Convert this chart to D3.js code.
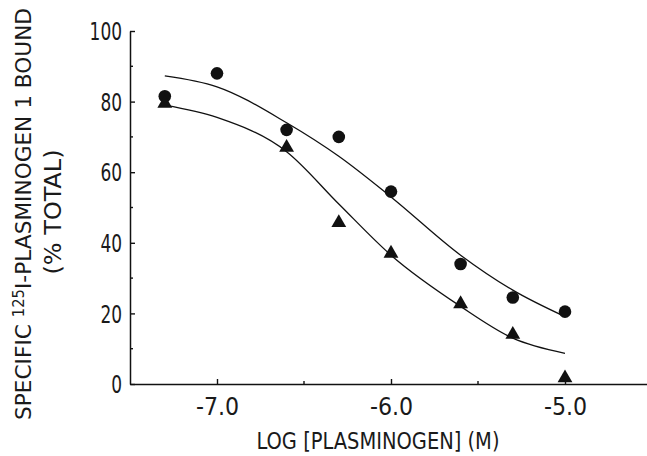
<!DOCTYPE html>
<html>
<head>
<meta charset="utf-8">
<script src="https://cdn.jsdelivr.net/npm/d3@7"></script>
<style>
  html, body { margin: 0; padding: 0; background: #fff; }
  svg { display: block; }
  text { font-family: "Liberation Sans Narrow", "DejaVu Sans Condensed", "Liberation Sans", sans-serif; fill: #1a1a1a; }
</style>
</head>
<body>
<script>
// Log plasminogen concentration (M) at which binding was measured
const logConc = [-7.3, -7.0, -6.6, -6.3, -6.0, -5.6, -5.3, -5.0];
// Specific binding, % of total — circles
const circleBound = [81.5, 88, 72, 70, 54.5, 34, 24.5, 20.5];
// Triangles (no value at -7.0)
const triConc = [-7.3, -6.6, -6.3, -6.0, -5.6, -5.3, -5.0];
const triangleBound = [79.5, 67, 45.7, 37, 22.7, 14, 1.7];
// Fitted binding curves, sampled along log concentration
const fitConc = [-7.3, -7.0, -6.6, -6.3, -6.0, -5.6, -5.3, -5.0];
const circleFit = [87.3, 84.2, 74, 64.5, 53, 36.5, 26.6, 19.1];
const triangleFit = [79, 75.5, 65.8, 51, 36.5, 22, 13, 8.7];
// Axis ticks
const xMajor = [-7.0, -6.0, -5.0];
const xMinor = [-6.5, -5.5];
const yMajor = [0, 20, 40, 60, 80, 100];
const yMinor = [10, 30, 50, 70, 90];

const W = 647, H = 456;
const svg = d3.select("body").append("svg").attr("width", W).attr("height", H);

const x = d3.scaleLinear().domain([-7.5, -4.5]).range([130, 652]);
const y = d3.scaleLinear().domain([0, 100]).range([384, 31]);

const ink = "#111";

// Y axis: ticks point into the plot, labels on the left
const yAxis = svg.append("g").attr("transform", `translate(${x(-7.5)},0)`)
  .call(d3.axisLeft(y).tickValues(yMajor).tickSizeInner(-5).tickSizeOuter(0).tickPadding(8)
        .tickFormat(d => String(d)));
yAxis.append("g").selectAll("line").data(yMinor).join("line")
  .attr("x1", 0).attr("x2", 3).attr("y1", d => y(d)).attr("y2", d => y(d));

// X axis: ticks point up into the plot
const xAxis = svg.append("g").attr("transform", `translate(0,${y(0)})`)
  .call(d3.axisBottom(x).tickValues(xMajor).tickSizeInner(-5).tickSizeOuter(0).tickPadding(14)
        .tickFormat(d => d.toFixed(1)));
xAxis.append("g").selectAll("line").data(xMinor).join("line")
  .attr("x1", d => x(d)).attr("x2", d => x(d)).attr("y1", 0).attr("y2", -3);

[yAxis, xAxis].forEach(g => {
  g.selectAll("path.domain").attr("stroke", ink).attr("stroke-width", 1.5);
  g.selectAll("line").attr("stroke", ink).attr("stroke-width", 1.4);
  g.selectAll("text").attr("font-size", 24).attr("fill", "#1a1a1a")
    .attr("font-family", null)
    .attr("textLength", function () { return this.textContent.length * 10.8; })
    .attr("lengthAdjust", "spacingAndGlyphs");
});
yAxis.selectAll(".tick text").attr("dy", "0.36em");

// Fitted curves
const line = d3.line().x(d => x(d[0])).y(d => y(d[1])).curve(d3.curveMonotoneX);
[circleFit, triangleFit].forEach(vals => {
  svg.append("path").datum(fitConc.map((c, i) => [c, vals[i]]))
    .attr("d", line).attr("fill", "none").attr("stroke", ink).attr("stroke-width", 1.3);
});

// Circle markers
svg.append("g").selectAll("circle").data(logConc.map((c, i) => [c, circleBound[i]])).join("circle")
  .attr("cx", d => x(d[0])).attr("cy", d => y(d[1])).attr("r", 6.3).attr("fill", ink);

// Triangle markers
const tri = d3.symbol().type(d3.symbolTriangle).size(95);
svg.append("g").selectAll("path").data(triConc.map((c, i) => [c, triangleBound[i]])).join("path")
  .attr("d", tri).attr("transform", d => `translate(${x(d[0])},${y(d[1])})`).attr("fill", ink);

// Axis titles
svg.append("text").attr("x", 378).attr("y", 449).attr("text-anchor", "middle")
  .attr("font-size", 23).attr("textLength", 243).attr("lengthAdjust", "spacingAndGlyphs")
  .text("LOG [PLASMINOGEN] (M)");

const yt = svg.append("text").attr("transform", "translate(31,214) rotate(-90)")
  .attr("text-anchor", "middle").attr("font-size", 22)
  .attr("textLength", 412).attr("lengthAdjust", "spacingAndGlyphs");
yt.append("tspan").text("SPECIFIC ");
yt.append("tspan").attr("font-size", 15).attr("dy", -7).text("125");
yt.append("tspan").attr("dy", 7).text("I-PLASMINOGEN 1 BOUND");

svg.append("text").attr("transform", "translate(61,212) rotate(-90)")
  .attr("text-anchor", "middle").attr("font-size", 23)
  .attr("textLength", 125).attr("lengthAdjust", "spacingAndGlyphs")
  .text("(% TOTAL)");
</script>
</body>
</html>
